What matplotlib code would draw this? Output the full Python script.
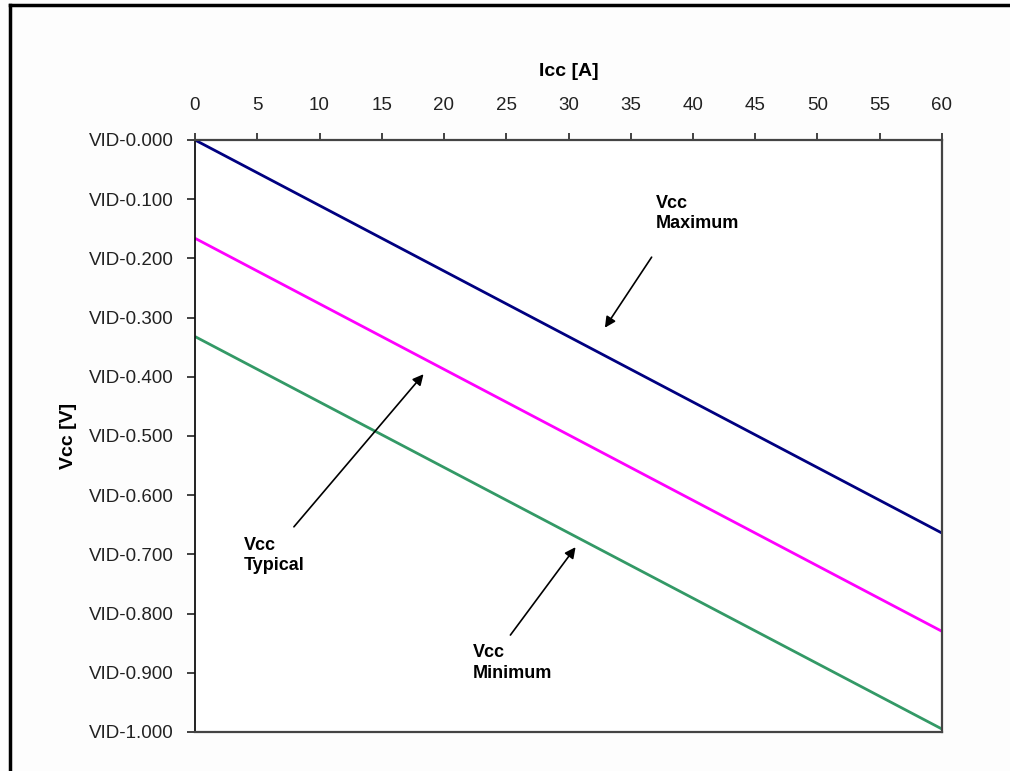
import numpy as np
import matplotlib
matplotlib.use("Agg")
import matplotlib.pyplot as plt
from matplotlib.lines import Line2D

# load line data (Icc in A, drop below VID in V)
icc = [0, 60]
vcc_max = [0.000, 0.664]
vcc_typ = [0.166, 0.830]
vcc_min = [0.332, 0.995]

x_ticks = list(range(0, 61, 5))
y_ticks = [i / 10 for i in range(11)]
y_labels = ["VID-%.3f" % v for v in y_ticks]

plain = ["Liberation Sans", "DejaVu Sans"]

fig = plt.figure(figsize=(10.1, 7.71), dpi=100, facecolor="#fdfdfd")
ax = fig.add_axes([195 / 1010, 1 - 732 / 771, 747 / 1010, 592 / 771])
ax.set_facecolor("white")

ax.plot(icc, vcc_max, color="#000080", lw=2.0, solid_capstyle="butt")
ax.plot(icc, vcc_typ, color="#ff00ff", lw=2.0, solid_capstyle="butt")
ax.plot(icc, vcc_min, color="#339966", lw=2.0, solid_capstyle="butt")

ax.set_xlim(0, 60)
ax.set_ylim(1.0, 0.0)
ax.xaxis.tick_top()
ax.xaxis.set_label_position("top")
ax.set_xticks(x_ticks)
ax.set_xticklabels([str(v) for v in x_ticks], family=plain, fontsize=13.5)
ax.set_yticks(y_ticks)
ax.set_yticklabels(y_labels, family=plain, fontsize=13.5)
ax.tick_params(axis="x", direction="out", length=5, width=1.2, pad=14, colors="#222222")
ax.tick_params(axis="y", direction="out", length=6, width=1.2, pad=9, colors="#222222")
ax.set_xlabel("Icc [A]", family=plain, fontsize=14, fontweight="bold", labelpad=15)
ax.set_ylabel("Vcc [V]", family=plain, fontsize=14, fontweight="bold", labelpad=9)

for side in ["top", "right", "bottom"]:
    ax.spines[side].set_color("#444444")
    ax.spines[side].set_linewidth(1.6)
ax.spines["left"].set_color("#111111")
ax.spines["left"].set_linewidth(1.3)

arrow = dict(arrowstyle="-|>", color="black", lw=1.2, mutation_scale=16)
txt = dict(family=plain, fontsize=13, fontweight="bold", va="top", ha="left", linespacing=1.25)

ax.annotate("", xy=(32.8, 0.321), xytext=(36.8, 0.194), arrowprops=arrow)
ax.text(37.0, 0.093, "Vcc\nMaximum", **txt)

ax.annotate("", xy=(18.5, 0.392), xytext=(7.8, 0.657), arrowprops=arrow)
ax.text(3.9, 0.671, "Vcc\nTypical", **txt)

ax.annotate("", xy=(30.7, 0.684), xytext=(25.2, 0.840), arrowprops=arrow)
ax.text(22.3, 0.852, "Vcc\nMinimum", **txt)

# frame around the picture (top and left edges only)
fig.add_artist(Line2D([10 / 1010, 1.0], [1 - 5 / 771, 1 - 5 / 771], color="black", lw=2.5))
fig.add_artist(Line2D([10 / 1010, 10 / 1010], [0.0, 1 - 5 / 771], color="black", lw=2.5))

fig.savefig("out.png", dpi=100, facecolor=fig.get_facecolor())
